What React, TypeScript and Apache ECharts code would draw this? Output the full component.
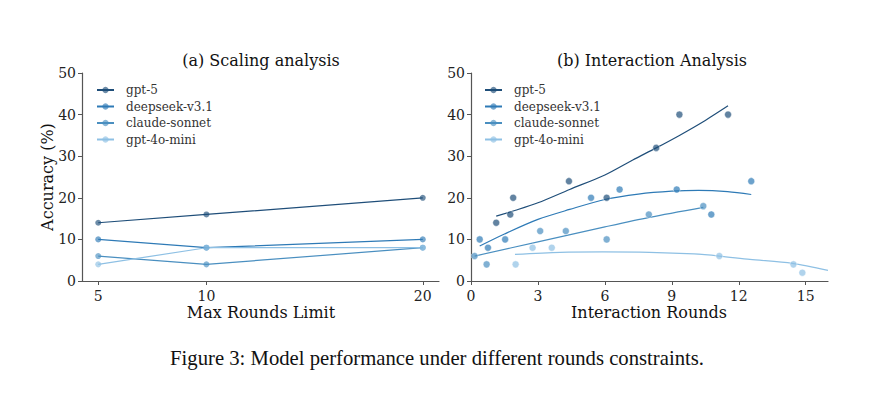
import React, { useEffect, useRef } from "react";
import * as echarts from "echarts";

const MODELS = ["gpt-5", "deepseek-v3.1", "claude-sonnet", "gpt-4o-mini"];
const COLORS = ["#1f4e79", "#2e7ab6", "#4a8fc0", "#8ec0e4"];

// (a) Scaling analysis
const LEFT_X = [5, 10, 20];
const LEFT_Y = [
  [14, 16, 20],
  [10, 8, 10],
  [6, 4, 8],
  [4, 8, 8],
];
const LEFT_TICKS = [5, 10, 20];

// (b) Interaction analysis: scatter points
const SC_X = [
  [1.13, 1.76, 1.89, 4.39, 6.08, 8.3, 9.34, 11.52],
  [0.39, 0.76, 1.53, 5.38, 6.66, 9.22, 10.77, 12.56],
  [0.16, 0.7, 3.1, 4.25, 6.08, 7.97, 10.41],
  [2.0, 2.76, 3.62, 11.13, 14.45, 14.85],
];
const SC_Y = [
  [14, 16, 20, 24, 20, 32, 40, 40],
  [10, 8, 10, 20, 22, 22, 16, 24],
  [6, 4, 12, 12, 10, 16, 18],
  [4, 8, 8, 6, 4, 2],
];
// fitted trend curves
const FIT_X = [
  [1.13, 2, 3, 4.42, 6, 7.25, 8.3, 9.34, 10.5, 11.52],
  [0.39, 1.5, 3, 4.42, 6, 7.5, 9, 10.2, 11.5, 12.56],
  [0.16, 3, 6, 8, 10.41],
  [1.97, 4, 5.91, 8, 10, 11.13, 12.5, 14.4, 16],
];
const FIT_Y = [
  [15.6, 17.0, 18.8, 22.0, 25.5, 29.1, 32.0, 35.0, 38.6, 42.1],
  [8.4, 11.3, 14.8, 17.2, 19.6, 20.9, 21.6, 21.8, 21.5, 20.8],
  [6.0, 9.4, 13.0, 15.3, 17.7],
  [6.4, 6.9, 7.0, 6.9, 6.5, 6.0, 5.2, 4.25, 2.55],
];
const RIGHT_TICKS = [0, 3, 6, 9, 12, 15];

const FONT = "DejaVu Serif";

export default function App() {
  const ref = useRef<HTMLDivElement>(null);
  useEffect(() => {
    document.body.style.margin = "0";
    const chart = echarts.init(ref.current!, null, { renderer: "svg" });
    const axisLine = { show: true, lineStyle: { color: "#555", width: 1.2 } };
    const axisTick = { show: true, length: 4, lineStyle: { color: "#555", width: 1 } };
    const axisLabel = { color: "#222", fontSize: 14, fontFamily: FONT };

    const series: any[] = [];
    MODELS.forEach((m, i) => {
      series.push({
        type: "line",
        name: m,
        xAxisIndex: 0,
        yAxisIndex: 0,
        data: LEFT_X.map((x, j) => [x, LEFT_Y[i][j]]),
        symbol: "circle",
        symbolSize: 6,
        lineStyle: { color: COLORS[i], width: 1.2 },
        itemStyle: { color: COLORS[i], opacity: 0.65 },
        z: 3,
      });
    });
    MODELS.forEach((m, i) => {
      series.push({
        type: "scatter",
        name: m,
        xAxisIndex: 1,
        yAxisIndex: 1,
        data: SC_X[i].map((x, j) => [x, SC_Y[i][j]]),
        symbol: "circle",
        symbolSize: 7,
        itemStyle: { color: COLORS[i], opacity: 0.7, borderColor: "#fff", borderWidth: 0.6 },
        z: 3,
      });
      series.push({
        type: "line",
        name: m,
        xAxisIndex: 1,
        yAxisIndex: 1,
        data: FIT_X[i].map((x, j) => [x, FIT_Y[i][j]]),
        symbol: "none",
        smooth: 0.3,
        lineStyle: { color: COLORS[i], width: 1.2 },
        z: 2,
      });
    });

    const legendBase = {
      orient: "vertical",
      top: 78,
      itemWidth: 17,
      itemHeight: 8,
      itemGap: 2.5,
      textStyle: { fontSize: 12, lineHeight: 14, fontFamily: FONT, color: "#333", padding: [0, 0, 0, 7] },
      data: MODELS,
      selectedMode: false,
    };

    chart.setOption({
      animation: false,
      backgroundColor: "#fff",
      grid: [
        { left: 82, top: 73, width: 357, height: 208 },
        { left: 471, top: 73, width: 357, height: 208 },
      ],
      legend: [
        { ...legendBase, left: 91 },
        { ...legendBase, left: 479 },
      ],
      xAxis: [
        {
          type: "value",
          gridIndex: 0,
          min: 4.25,
          max: 20.75,
          splitLine: { show: false },
          axisLine,
          axisTick: { ...axisTick, customValues: LEFT_TICKS },
          axisLabel: { ...axisLabel, margin: 8, customValues: LEFT_TICKS },
        },
        {
          type: "value",
          gridIndex: 1,
          min: 0,
          max: 16,
          splitLine: { show: false },
          axisLine,
          axisTick: { ...axisTick, customValues: RIGHT_TICKS },
          axisLabel: { ...axisLabel, margin: 8, customValues: RIGHT_TICKS },
        },
      ],
      yAxis: [
        {
          type: "value",
          gridIndex: 0,
          min: 0,
          max: 50,
          interval: 10,
          splitLine: { show: false },
          axisLine,
          axisTick,
          axisLabel: { ...axisLabel, margin: 6 },
        },
        {
          type: "value",
          gridIndex: 1,
          min: 0,
          max: 50,
          interval: 10,
          splitLine: { show: false },
          axisLine,
          axisTick,
          axisLabel: { ...axisLabel, margin: 6 },
        },
      ],
      graphic: [
        {
          type: "text",
          x: 261,
          y: 60,
          style: { text: "(a) Scaling analysis", fontSize: 16, fontFamily: FONT, fill: "#111", align: "center", verticalAlign: "middle" },
        },
        {
          type: "text",
          x: 652,
          y: 60,
          style: { text: "(b) Interaction Analysis", fontSize: 16, fontFamily: FONT, fill: "#111", align: "center", verticalAlign: "middle" },
        },
        {
          type: "text",
          x: 261,
          y: 312,
          style: { text: "Max Rounds Limit", fontSize: 16, fontFamily: FONT, fill: "#111", align: "center", verticalAlign: "middle" },
        },
        {
          type: "text",
          x: 649,
          y: 312,
          style: { text: "Interaction Rounds", fontSize: 16, fontFamily: FONT, fill: "#111", align: "center", verticalAlign: "middle" },
        },
        {
          type: "text",
          x: 47,
          y: 177,
          rotation: Math.PI / 2,
          style: { text: "Accuracy (%)", fontSize: 16, fontFamily: FONT, fill: "#111", align: "center", verticalAlign: "middle" },
        },
        {
          type: "text",
          x: 437,
          y: 358,
          style: {
            text: "Figure 3: Model performance under different rounds constraints.",
            fontSize: 20.7,
            fontFamily: "Liberation Serif",
            fill: "#111",
            align: "center",
            verticalAlign: "middle",
          },
        },
      ],
      series,
    });
    return () => chart.dispose();
  }, []);
  return <div ref={ref} style={{ width: 879, height: 394 }} />;
}
